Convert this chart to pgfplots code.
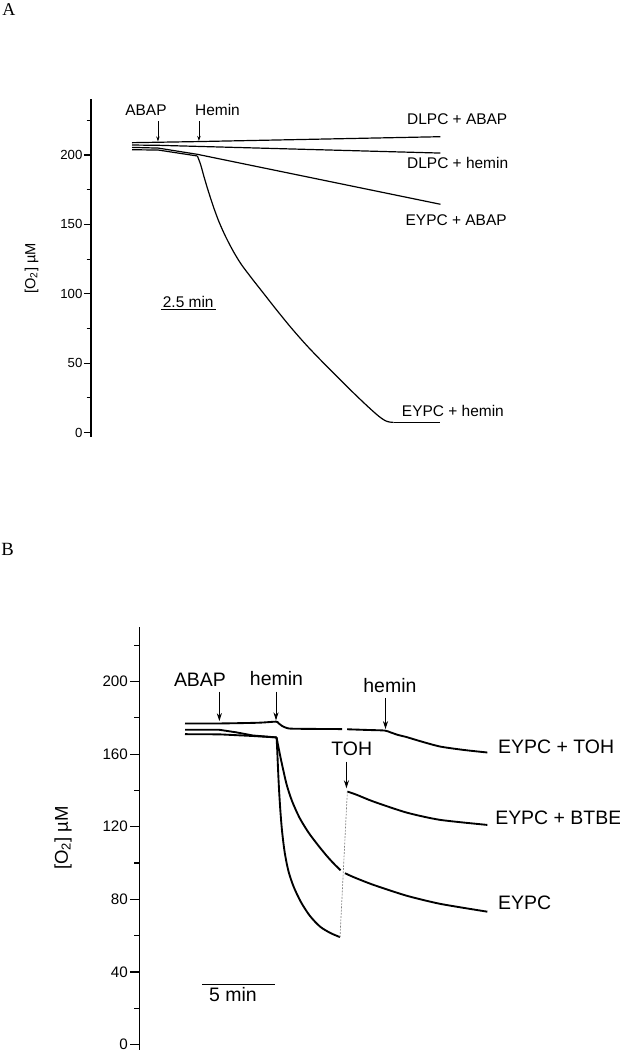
\documentclass[border=0pt]{standalone}
\usepackage{fontspec}
\setmainfont{Liberation Sans}
\newfontfamily\seriffont{Liberation Serif}
\usepackage{pgfplots}
\pgfplotsset{compat=1.18}
\usetikzlibrary{arrows.meta}

\begin{document}
\begin{tikzpicture}
% ---------------- Panel A ----------------
\begin{axis}[
  at={(68.25pt,-327.525pt)}, anchor=south west,
  scale only axis, width=262.125pt, height=253.1pt,
  xmin=-1.881, xmax=14.151, ymin=-3, ymax=240.2,
  axis x line=none, axis y line*=left,
  ytick={0,50,100,150,200}, minor ytick={25,75,125,175,225},
  tick align=outside, major tick length=5.25pt, minor tick length=3.2pt,
  y axis line style={line width=1.0pt},
  tick style={line width=0.8pt, black},
  yticklabel style={font=\fontsize{9.9}{10}\selectfont, inner sep=1pt},
  /pgf/number format/assume math mode=true,
  clip=false, no markers,
  cycle list={{black,solid}},
  every axis plot/.append style={line width=0.9pt, black},
]
% DLPC + ABAP
\addplot[black] coordinates {(0,208.9) (1.2,209.2) (3.07,209.7) (14.15,213.2)};
% DLPC + hemin
\addplot[black] coordinates {(0,207.2) (1.2,207.0) (14.15,201.4)};
% EYPC + ABAP
\addplot[black] coordinates {(0,205.5) (1.2,205.0) (3.0,200.5) (14.15,164.5)};
% EYPC + hemin
\addplot[black] coordinates {(0,203.8) (1.2,203.6) (3.0,199.3)};
\addplot[black, smooth, tension=0.5] coordinates {(3.0,199.3) (3.15,193) (3.3,184.5) (3.5,174) (3.75,162) (4.0,151.5) (4.3,141) (4.65,130.5) (5.0,121.5) (5.5,111) (6.0,101) (6.6,89) (7.3,75.5) (8.0,63) (8.7,51.5) (9.4,40.5) (10.1,29.5) (10.8,19) (11.3,12) (11.6,8.7) (11.8,7.6) (12.0,7.3)};
\addplot[black] coordinates {(12.0,7.3) (14.15,7.3)};
% annotations
\node[font=\fontsize{11.6}{12}\selectfont] at (axis cs:0.64,232.4) {ABAP};
\node[font=\fontsize{11.6}{12}\selectfont] at (axis cs:3.92,232.4) {Hemin};
\draw[-{Stealth[length=3.75pt,width=2.6pt]}, line width=0.5pt] (axis cs:1.19,224.5) -- (axis cs:1.19,209.8);
\draw[-{Stealth[length=3.75pt,width=2.6pt]}, line width=0.5pt] (axis cs:3.07,224.5) -- (axis cs:3.07,210.2);
\node[anchor=west, inner sep=0pt, font=\fontsize{11.6}{12}\selectfont] at (axis cs:12.61,225.9) {DLPC + ABAP};
\node[anchor=west, inner sep=0pt, font=\fontsize{11.6}{12}\selectfont] at (axis cs:12.61,194.2) {DLPC + hemin};
\node[anchor=west, inner sep=0pt, font=\fontsize{11.6}{12}\selectfont] at (axis cs:12.54,153.2) {EYPC + ABAP};
\node[anchor=west, inner sep=0pt, font=\fontsize{11.6}{12}\selectfont] at (axis cs:12.37,15.7) {EYPC + hemin};
\draw[line width=0.6pt] (axis cs:1.33,89) -- (axis cs:3.83,89);
\node[above, inner sep=1.2pt, font=\fontsize{11.6}{12}\selectfont] at (axis cs:2.58,89) {2.5 min};
\node[rotate=90, font=\fontsize{11}{12}\selectfont] at (axis cs:-4.61,118.3) {[O\textsubscript{2}] µM};
\end{axis}

% ---------------- Panel B ----------------
\begin{axis}[
  at={(104.625pt,-787.5pt)}, anchor=south west,
  scale only axis, width=260.9pt, height=317.2pt,
  xmin=-3.1, xmax=20.6, ymin=-3, ymax=230,
  axis x line=none, axis y line*=left,
  ytick={0,40,80,120,160,200}, minor ytick={20,60,100,140,180,220},
  tick align=outside, major tick length=7pt, minor tick length=3.75pt,
  y axis line style={line width=1.1pt},
  tick style={line width=0.9pt, black},
  yticklabel style={font=\fontsize{11.4}{12}\selectfont, inner sep=1.5pt},
  /pgf/number format/assume math mode=true,
  clip=false, no markers,
  cycle list={{black,solid}},
  every axis plot/.append style={line width=1.4pt, black},
]
% EYPC + TOH
\addplot[black, smooth, tension=0.4] coordinates {(0,176.9) (2.35,176.9) (5.0,177.3) (6.2,177.9) (6.35,177.2) (6.6,175.6) (6.9,174.5) (7.4,174.0) (10.7,173.8)};
\addplot[black, smooth, tension=0.4] coordinates {(11.05,173.7) (12.5,173.3) (13.6,173.0) (14.0,172.0) (14.5,170.6) (15.1,169.4) (16.0,167.2) (17.37,164.2) (19.0,162.3) (20.6,160.9)};
% EYPC + BTBE
\addplot[black] coordinates {(0,173.4) (2.35,173.4) (3.5,172) (4.6,170.3) (6.24,169.2)};
\addplot[black, smooth, tension=0.5] coordinates {(6.24,169.2) (6.35,164.5) (6.5,158.5) (6.7,151) (6.95,142.5) (7.3,134) (7.8,125) (8.4,117) (9.0,110.5) (9.6,104.5) (10.1,100) (10.6,96)};
\addplot[black, smooth, tension=0.4] coordinates {(11.06,139.4) (11.7,137.6) (12.83,133.9) (15.1,127.8) (17.37,123.8) (20.6,121)};
% EYPC
\addplot[black] coordinates {(0,171.0) (2.35,170.9) (4.6,170.0) (6.24,169.2)};
\addplot[black, smooth, tension=0.5] coordinates {(6.24,169.2) (6.29,161) (6.34,151.5) (6.41,140) (6.5,128.5) (6.62,117) (6.8,105.5) (7.05,95.5) (7.4,87) (7.9,78.5) (8.5,71) (9.2,65) (9.9,61.5) (10.56,59.2)};
\addplot[black, smooth, tension=0.4] coordinates {(10.9,94.4) (11.5,92.2) (12.83,88) (15.1,82) (17.4,77.5) (20.6,73.2)};
% dotted connector
\addplot[densely dotted, line width=0.5pt, gray] coordinates {(10.56,59.2) (11.06,139.4)};
% annotations
\node[font=\fontsize{14.6}{15}\selectfont] at (axis cs:1.02,200.9) {ABAP};
\node[font=\fontsize{14.6}{15}\selectfont] at (axis cs:6.23,201.5) {hemin};
\node[font=\fontsize{14.6}{15}\selectfont] at (axis cs:13.96,197.6) {hemin};
\node[font=\fontsize{14.6}{15}\selectfont] at (axis cs:11.36,162.8) {TOH};
\draw[-{Stealth[length=6pt,width=3.8pt]}, line width=0.6pt] (axis cs:2.34,194.5) -- (axis cs:2.34,178.2);
\draw[-{Stealth[length=6pt,width=3.8pt]}, line width=0.6pt] (axis cs:6.2,194.5) -- (axis cs:6.2,178.6);
\draw[-{Stealth[length=6pt,width=3.8pt]}, line width=0.6pt] (axis cs:13.66,191) -- (axis cs:13.66,173.8);
\draw[-{Stealth[length=6pt,width=3.8pt]}, line width=0.6pt] (axis cs:11.0,155.9) -- (axis cs:11.0,141.2);
\node[anchor=west, inner sep=0pt, font=\fontsize{14.6}{15}\selectfont] at (axis cs:21.32,164.2) {EYPC + TOH};
\node[anchor=west, inner sep=0pt, font=\fontsize{14.6}{15}\selectfont] at (axis cs:21.12,124.7) {EYPC + BTBE};
\node[anchor=west, inner sep=0pt, font=\fontsize{14.6}{15}\selectfont] at (axis cs:21.32,78.2) {EYPC};
\draw[line width=0.6pt] (axis cs:1.16,32.9) -- (axis cs:6.16,32.9);
\node[below, inner sep=1.5pt, font=\fontsize{14.6}{15}\selectfont] at (axis cs:3.27,32.9) {5 min};
\node[rotate=90, font=\fontsize{13.9}{14}\selectfont] at (axis cs:-8.31,113.9) {[O\textsubscript{2}] µM};
\end{axis}

% panel letters and fixed page size
\begin{scope}[x=0.75pt,y=-0.75pt]
\node[anchor=base west, inner sep=0pt, font=\seriffont\fontsize{13.5}{14}\selectfont] at (2,15) {A};
\node[anchor=base west, inner sep=0pt, font=\seriffont\fontsize{14}{15}\selectfont] at (1,555) {B};
\pgfresetboundingbox
\path (0,0) rectangle (620,1050);
\end{scope}
\end{tikzpicture}
\end{document}
